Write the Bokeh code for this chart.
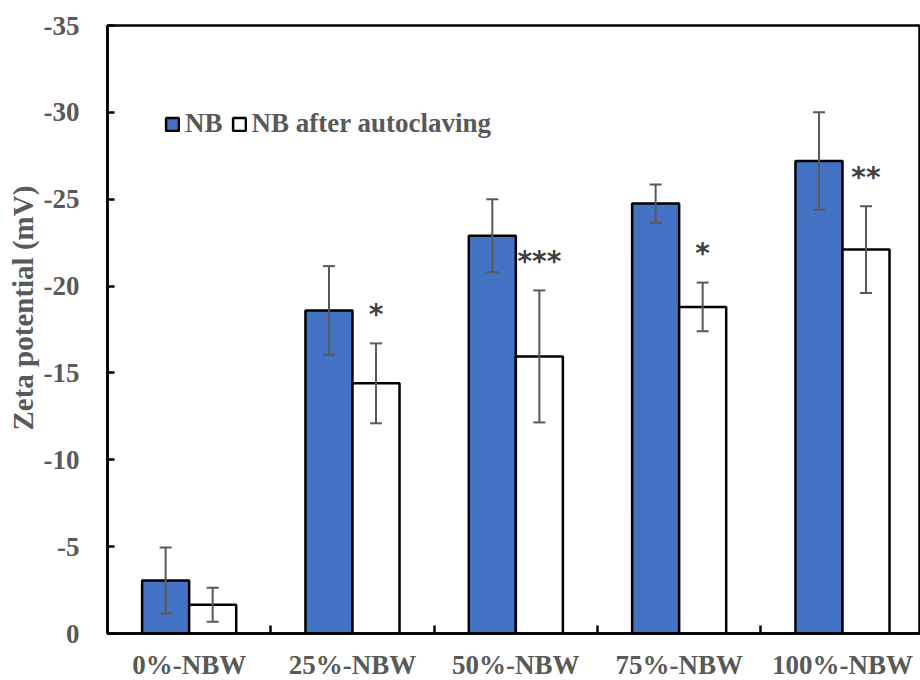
from bokeh.plotting import figure
from bokeh.models import (Range1d, FixedTicker, ColumnDataSource, Whisker, TeeHead,
                          Legend, LegendItem, Title)
from bokeh.core.properties import value
from bokeh.embed import file_html
from bokeh.resources import INLINE

# Zeta potential of nanobubble water at different dilutions (mV, mean and SD)
categories = ["0%-NBW", "25%-NBW", "50%-NBW", "75%-NBW", "100%-NBW"]
nb_mean = [-3.05, -18.6, -22.9, -24.75, -27.2]
nb_sd = [1.9, 2.55, 2.1, 1.1, 2.8]
auto_mean = [-1.65, -14.4, -15.95, -18.8, -22.1]
auto_sd = [0.98, 2.3, 3.8, 1.4, 2.5]
significance = ["*", "*", "***", "*", "**"]
show_sig = [False, True, True, True, True]
y_ticks = [0, -5, -10, -15, -20, -25, -30, -35]

FONT = "Liberation Serif"
GREY = "#595959"
BLUE = "#4472C4"
BAR_W = 0.288

centers = [i + 0.5 for i in range(len(categories))]
nb_x = [c - BAR_W / 2 for c in centers]
auto_x = [c + BAR_W / 2 for c in centers]

src_nb = ColumnDataSource(dict(
    x=nb_x, top=nb_mean,
    upper=[m - s for m, s in zip(nb_mean, nb_sd)],
    lower=[m + s for m, s in zip(nb_mean, nb_sd)],
))
src_auto = ColumnDataSource(dict(
    x=auto_x, top=auto_mean,
    upper=[m - s for m, s in zip(auto_mean, auto_sd)],
    lower=[m + s for m, s in zip(auto_mean, auto_sd)],
))
sig_src = ColumnDataSource(dict(
    x=[x for x, k in zip(auto_x, show_sig) if k],
    y=[m - s for m, s, k in zip(auto_mean, auto_sd, show_sig) if k],
    text=[t for t, k in zip(significance, show_sig) if k],
))

p = figure(width=920, height=680, output_backend="svg", toolbar_location=None,
           x_range=Range1d(0, 813 / 163.33), y_range=Range1d(0, -35),
           min_border_left=107, min_border_right=0, min_border_top=25,
           min_border_bottom=47, frame_width=813, frame_height=608)

r_nb = p.vbar(x="x", top="top", bottom=0, width=BAR_W, source=src_nb,
              fill_color=BLUE, line_color="black", line_width=2.5)
r_auto = p.vbar(x="x", top="top", bottom=0, width=BAR_W, source=src_auto,
                fill_color="white", line_color="black", line_width=2.5)

for src in (src_nb, src_auto):
    w = Whisker(base="x", upper="upper", lower="lower", source=src,
                line_color=GREY, line_width=2, level="annotation",
                upper_head=TeeHead(size=12, line_color=GREY, line_width=2),
                lower_head=TeeHead(size=12, line_color=GREY, line_width=2))
    p.add_layout(w)

p.text(x="x", y="y", text="text", source=sig_src, text_align="center",
       text_baseline="middle", y_offset=-29, text_color="#404040",
       text_font=value("DejaVu Sans"), text_font_style="bold",
       text_font_size="28px")

# axes
p.xgrid.visible = False
p.ygrid.visible = False
p.outline_line_color = "black"
p.outline_line_width = 2.5

xa = p.xaxis[0]
xa.ticker = FixedTicker(ticks=centers, minor_ticks=[1, 2, 3, 4])
xa.major_label_overrides = {c: lab for c, lab in zip(centers, categories)}
xa.major_tick_line_color = None
xa.major_tick_in = 0
xa.major_tick_out = 0
xa.minor_tick_in = 8
xa.minor_tick_out = 0
xa.minor_tick_line_width = 2.5
xa.minor_tick_line_color = "black"
xa.axis_line_color = "black"
xa.axis_line_width = 2.5
xa.major_label_standoff = 16
xa.major_label_text_font = FONT
xa.major_label_text_font_style = "bold"
xa.major_label_text_font_size = "27px"
xa.major_label_text_color = GREY

ya = p.yaxis[0]
ya.ticker = FixedTicker(ticks=y_ticks)
ya.major_label_overrides = {t: str(t) for t in y_ticks}
ya.major_tick_in = 7
ya.major_tick_out = 0
ya.major_tick_line_width = 2.5
ya.major_tick_line_color = "black"
ya.minor_tick_line_color = None
ya.axis_line_color = "black"
ya.axis_line_width = 2.5
ya.major_label_standoff = 28
ya.major_label_text_font = FONT
ya.major_label_text_font_style = "bold"
ya.major_label_text_font_size = "27px"
ya.major_label_text_color = GREY

# y-axis title as a side title, anchored at the bottom and lifted by an offset
p.add_layout(Title(text="Zeta potential (mV)", align="left", offset=203,
                   standoff=4, text_font=FONT, text_font_style="bold",
                   text_font_size="29px", text_color=GREY), "left")

legend = Legend(items=[LegendItem(label="NB", renderers=[r_nb]),
                       LegendItem(label="NB after autoclaving", renderers=[r_auto])],
                orientation="horizontal", location=(57, 494),
                glyph_width=16, glyph_height=16, label_standoff=5, spacing=8,
                padding=0, margin=0, border_line_color=None,
                background_fill_alpha=0,
                label_text_font=FONT, label_text_font_style="bold",
                label_text_font_size="27px", label_text_color=GREY)
p.add_layout(legend)

open("out.html", "w").write(file_html(p, INLINE))
